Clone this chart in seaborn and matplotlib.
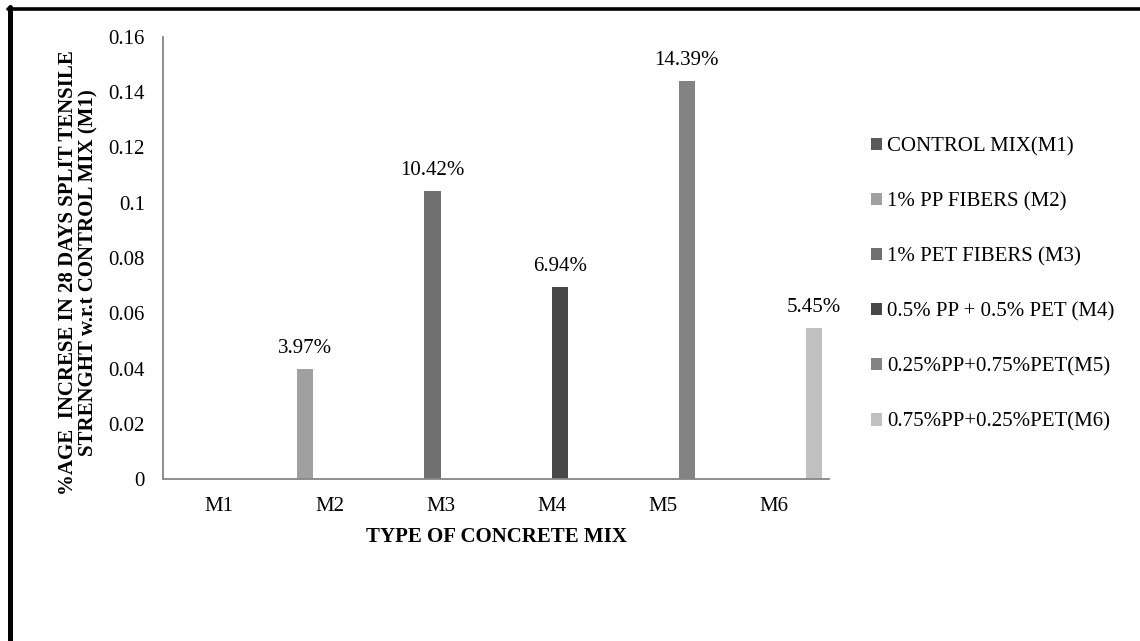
import matplotlib
matplotlib.use("Agg")
import matplotlib.pyplot as plt
import seaborn as sns
import pandas as pd
from matplotlib.lines import Line2D
from matplotlib.patches import Patch

# Concrete mixes on the x axis
mixes = ["M1", "M2", "M3", "M4", "M5", "M6"]

# One series per mix (legend entries)
series_names = [
    "CONTROL MIX(M1)",
    "1% PP FIBERS (M2)",
    "1% PET FIBERS (M3)",
    "0.5% PP + 0.5% PET (M4)",
    "0.25%PP+0.75%PET(M5)",
    "0.75%PP+0.25%PET(M6)",
]

# Increase in 28-day split tensile strength relative to M1 (fraction)
increase = [0.0, 0.0397, 0.1042, 0.0694, 0.1439, 0.0545]

bar_colors = ["#595959", "#a0a0a0", "#707070", "#474747", "#838383", "#c0c0c0"]

y_ticks = [0, 0.02, 0.04, 0.06, 0.08, 0.10, 0.12, 0.14, 0.16]
y_tick_labels = ["0", "0.02", "0.04", "0.06", "0.08", "0.1", "0.12", "0.14", "0.16"]

sns.set_theme(style="white")
plt.rcParams["font.family"] = ["Liberation Serif", "DejaVu Serif"]
plt.rcParams["text.color"] = "black"

df = pd.DataFrame({"mix": mixes, "series": series_names, "value": increase})

W, H = 1140, 641
fig = plt.figure(figsize=(W / 100, H / 100), dpi=100)
fig.patch.set_facecolor("white")
ax = fig.add_axes([163 / W, 1 - 479 / H, 666 / W, 442 / H])

sns.barplot(
    data=df, x="mix", y="value", hue="series",
    order=mixes, hue_order=series_names,
    palette=dict(zip(series_names, bar_colors)),
    saturation=1, width=0.88, dodge=True, errorbar=None,
    linewidth=0, ax=ax,
)

# Value labels above every non-zero bar
for container, v in zip(ax.containers, increase):
    if v > 0:
        ax.bar_label(container, labels=[f"{v * 100:.2f}%"], padding=8,
                     fontsize=15, color="black")

ax.set_ylim(0, 0.16)
ax.set_xlim(-0.5, len(mixes) - 0.5)
ax.set_yticks(y_ticks)
ax.set_yticklabels(y_tick_labels)
ax.tick_params(axis="both", length=0, labelsize=15, colors="black")
ax.tick_params(axis="y", pad=13)
ax.tick_params(axis="x", pad=13)

for side in ("top", "right"):
    ax.spines[side].set_visible(False)
for side in ("left", "bottom"):
    ax.spines[side].set_color("#868686")
    ax.spines[side].set_linewidth(1.3)

ax.set_xlabel("TYPE OF CONCRETE MIX", fontsize=15, fontweight="bold",
              labelpad=8, color="black")
ax.set_ylabel("%AGE  INCRESE IN 28 DAYS SPLIT TENSILE\nSTRENGHT w.r.t CONTROL MIX (M1)",
              fontsize=15, fontweight="bold", labelpad=7, linespacing=1.05,
              color="black")
ax.yaxis.label.set_y(0.468)

# Legend with square markers to the right of the plot
leg = ax.get_legend()
if leg is not None:
    leg.remove()
handles = [Patch(facecolor=c, edgecolor="none") for c in bar_colors]
fig.legend(
    handles=handles, labels=series_names,
    loc="center left", bbox_to_anchor=(871 / W, 1 - 284.5 / H),
    frameon=False, fontsize=15, handlelength=0.52, handleheight=0.52,
    handletextpad=0.25, labelspacing=1.72, borderpad=0, borderaxespad=0,
)

# Outer frame lines (top and left)
fig.add_artist(Line2D([8 / W, 1.0], [1 - 8.5 / H] * 2, color="black", lw=2.6,
                      transform=fig.transFigure))
fig.add_artist(Line2D([10.5 / W] * 2, [0.0, 1 - 6.5 / H], color="black", lw=3.6,
                      transform=fig.transFigure))

fig.savefig("out.png", dpi=100, facecolor="white")
